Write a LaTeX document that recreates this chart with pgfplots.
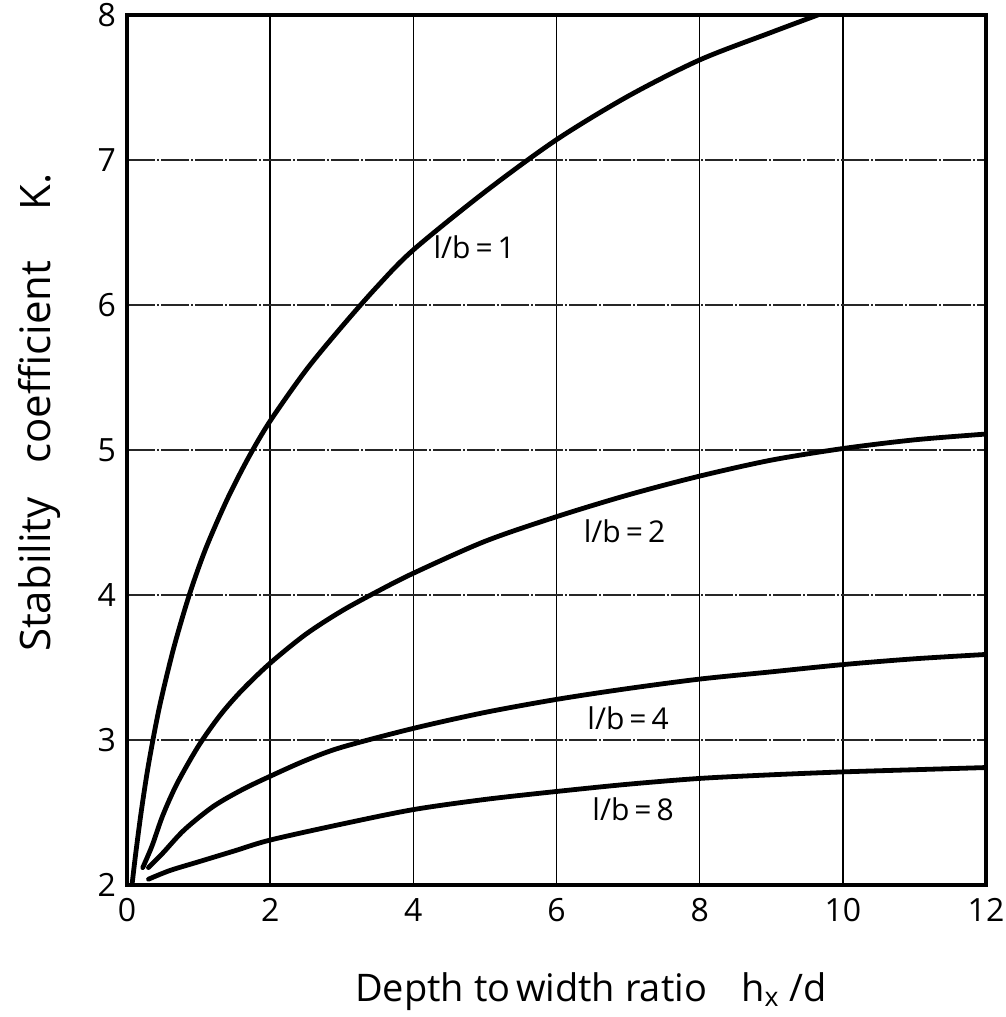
\documentclass[border=0pt]{standalone}
\usepackage{fontspec}
\setmainfont{Open Sans}
\usepackage{pgfplots}
\pgfplotsset{compat=1.18}
\begin{document}
\begin{tikzpicture}
\begin{axis}[
  scale only axis,
  width=429.5pt, height=435pt,
  xmin=0, xmax=12, ymin=2, ymax=8,
  xtick={0,2,4,6,8,10,12}, ytick={2,3,4,5,6,7,8},
  major tick length=0pt,
  axis line style={line width=1.8pt, black},
  xmajorgrids, ymajorgrids,
  x grid style={line width=0.7pt, black},
  y grid style={line width=0.7pt, black!85, dash pattern=on 14pt off 1pt on 1pt off 1pt},
  tick label style={font=\fontsize{16}{18}\selectfont},
  /pgf/number format/assume math mode=true,
  xticklabel style={yshift=-3pt},
  yticklabel style={xshift=-2pt},
  xlabel={Depth to\hspace{0.15em}width ratio\hspace{0.9em}h\textsubscript{x} /d},
  ylabel={Stability\hspace{0.8em}coefficient\hspace{1.2em}K.},
  xlabel style={font=\fontsize{19}{22}\selectfont, at={(axis description cs:0.54,-0.134)}, anchor=base},
  ylabel style={font=\fontsize{21}{24}\selectfont, at={(axis description cs:-0.089,0.543)}, anchor=base},
  clip=true,
]
% l/b = 1
\addplot[black, no markers, line width=2.4pt, smooth, line cap=round] coordinates {(0.07,2.0) (0.12,2.21) (0.2,2.51) (0.3,2.83) (0.45,3.22) (0.65,3.63) (0.87,4.0) (1.1,4.32) (1.4,4.66) (1.7,4.95) (2.0,5.2) (2.5,5.55) (3.0,5.85) (3.5,6.13) (4.0,6.38) (5.0,6.78) (6.0,7.14) (7.0,7.44) (8.0,7.69) (9.0,7.88) (9.65,8.0)};
% l/b = 2
\addplot[black, no markers, line width=2.4pt, smooth, line cap=round] coordinates {(0.22,2.12) (0.35,2.27) (0.5,2.48) (0.7,2.7) (1.0,2.96) (1.3,3.17) (1.6,3.34) (2.0,3.53) (2.5,3.73) (3.0,3.89) (3.5,4.025) (4.0,4.15) (5.0,4.37) (6.0,4.54) (7.0,4.69) (8.0,4.82) (9.0,4.93) (10.0,5.01) (11.0,5.07) (12.0,5.11)};
% l/b = 4
\addplot[black, no markers, line width=2.4pt, smooth, line cap=round] coordinates {(0.3,2.12) (0.5,2.22) (0.8,2.38) (1.2,2.54) (1.6,2.655) (2.0,2.75) (2.5,2.86) (3.0,2.95) (4.0,3.08) (5.0,3.19) (6.0,3.28) (7.0,3.355) (8.0,3.42) (9.0,3.47) (10.0,3.52) (11.0,3.56) (12.0,3.59)};
% l/b = 8
\addplot[black, no markers, line width=2.4pt, smooth, line cap=round] coordinates {(0.3,2.04) (0.6,2.1) (1.0,2.16) (1.5,2.235) (2.0,2.31) (3.0,2.42) (4.0,2.52) (5.0,2.59) (6.0,2.645) (7.0,2.695) (8.0,2.735) (9.0,2.76) (10.0,2.78) (11.0,2.795) (12.0,2.81)};
\node[font=\fontsize{15}{18}\selectfont] at (axis cs:4.85,6.40) {l/b\,=\,1};
\node[font=\fontsize{15}{18}\selectfont] at (axis cs:6.95,4.44) {l/b\,=\,2};
\node[font=\fontsize{15}{18}\selectfont] at (axis cs:7.0,3.15) {l/b\,=\,4};
\node[font=\fontsize{15}{18}\selectfont] at (axis cs:7.07,2.52) {l/b\,=\,8};
\end{axis}
\pgfresetboundingbox
\path ([shift={(-63.5pt,-66pt)}]current axis.south west) rectangle ([shift={(9.5pt,7.5pt)}]current axis.north east);
\end{tikzpicture}
\end{document}
